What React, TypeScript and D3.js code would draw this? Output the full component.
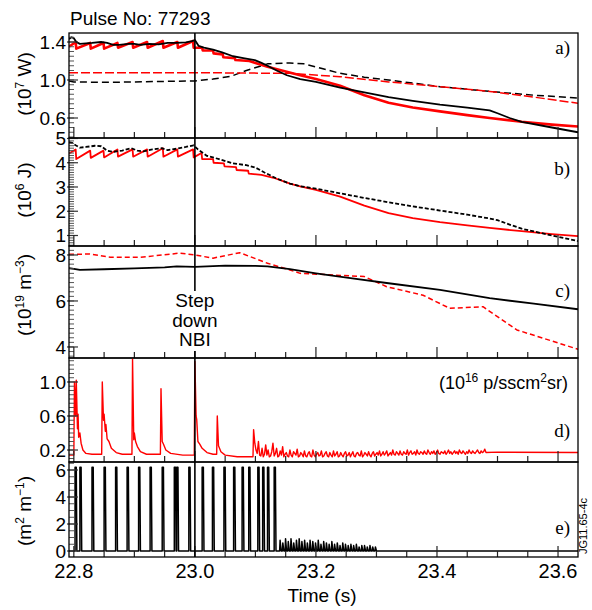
import React from 'react';
import * as d3 from 'd3';

// ---- data ----
const tStart = 22.792;
const tEnd = 23.633;
const stepDownTime = 23.0;
const pulseNo = '77293';
const xTickValues = [22.8, 23.0, 23.2, 23.4, 23.6];

// a) power, 1e7 W
const powABlack: [number, number][] = [
  [22.792, 1.43], [22.796, 1.45], [22.8, 1.44], [22.804, 1.40], [22.81, 1.38], [22.82, 1.385],
  [22.83, 1.39], [22.845, 1.40], [22.855, 1.39], [22.865, 1.37], [22.875, 1.37], [22.89, 1.38],
  [22.9, 1.38], [22.91, 1.37], [22.925, 1.38], [22.94, 1.375], [22.955, 1.39], [22.97, 1.39],
  [22.985, 1.395], [22.995, 1.41], [23.0, 1.42], [23.006, 1.36], [23.015, 1.34], [23.03, 1.32],
  [23.045, 1.29], [23.063, 1.25], [23.08, 1.23], [23.099, 1.21], [23.11, 1.18], [23.12, 1.15],
  [23.135, 1.10], [23.152, 1.05], [23.174, 1.01], [23.2, 0.98], [23.24, 0.92], [23.28, 0.87],
  [23.32, 0.82], [23.36, 0.78], [23.405, 0.74], [23.45, 0.71], [23.487, 0.68], [23.5, 0.65],
  [23.52, 0.60], [23.54, 0.56], [23.59, 0.50], [23.633, 0.45],
];
const powARed: [number, number][] = [
  [22.792, 1.35], [22.803, 1.40], [22.804, 1.33], [22.827, 1.39], [22.828, 1.33], [22.849, 1.39],
  [22.85, 1.33], [22.872, 1.39], [22.873, 1.34], [22.897, 1.40], [22.898, 1.34], [22.921, 1.40],
  [22.922, 1.34], [22.947, 1.41], [22.948, 1.34], [22.971, 1.40], [22.972, 1.34], [22.997, 1.41],
  [22.998, 1.34], [23.012, 1.34], [23.013, 1.31], [23.03, 1.31], [23.031, 1.28], [23.046, 1.27],
  [23.047, 1.24], [23.066, 1.23], [23.067, 1.21], [23.09, 1.20], [23.1, 1.18], [23.12, 1.14],
  [23.15, 1.09], [23.174, 1.05], [23.2, 1.01], [23.24, 0.94], [23.28, 0.84], [23.32, 0.76],
  [23.36, 0.71], [23.405, 0.67], [23.45, 0.63], [23.487, 0.60], [23.54, 0.56], [23.59, 0.53],
  [23.633, 0.51],
];
const powABlackDash: [number, number][] = [
  [22.792, 0.99], [22.8, 0.98], [22.85, 0.975], [22.9, 0.98], [22.95, 0.985], [23.0, 0.99],
  [23.03, 1.01], [23.06, 1.04], [23.085, 1.10], [23.12, 1.17], [23.157, 1.18], [23.18, 1.17],
  [23.21, 1.12], [23.24, 1.07], [23.28, 1.03], [23.32, 1.0], [23.405, 0.93], [23.487, 0.88],
  [23.56, 0.84], [23.633, 0.81],
];
const powARedDash: [number, number][] = [
  [22.792, 1.077], [23.0, 1.077], [23.157, 1.07], [23.24, 1.035], [23.32, 0.98], [23.405, 0.93],
  [23.487, 0.88], [23.56, 0.82], [23.633, 0.755],
];

// b) stored energy, 1e6 J
const enBBlackDash: [number, number][] = [
  [22.792, 4.85], [22.797, 4.82], [22.803, 4.72], [22.81, 4.62], [22.82, 4.65], [22.835, 4.7],
  [22.845, 4.68], [22.855, 4.5], [22.865, 4.45], [22.88, 4.5], [22.895, 4.6], [22.905, 4.5],
  [22.915, 4.47], [22.93, 4.55], [22.945, 4.6], [22.955, 4.52], [22.97, 4.58], [22.985, 4.65],
  [22.998, 4.72], [23.005, 4.55], [23.02, 4.28], [23.04, 4.15], [23.063, 3.97], [23.085, 3.9],
  [23.1, 3.8], [23.115, 3.6], [23.135, 3.35], [23.157, 3.14], [23.174, 3.03], [23.2, 2.93],
  [23.24, 2.74], [23.28, 2.55], [23.32, 2.37], [23.36, 2.2], [23.405, 2.03], [23.45, 1.86],
  [23.487, 1.7], [23.5, 1.63], [23.52, 1.45], [23.54, 1.28], [23.59, 1.0], [23.633, 0.77],
];
const enBRed: [number, number][] = [
  [22.792, 4.38], [22.803, 4.55], [22.804, 4.15], [22.827, 4.5], [22.828, 4.2], [22.849, 4.5],
  [22.85, 4.22], [22.872, 4.55], [22.873, 4.25], [22.897, 4.55], [22.898, 4.25], [22.921, 4.55],
  [22.922, 4.25], [22.947, 4.6], [22.948, 4.25], [22.971, 4.55], [22.972, 4.25], [22.997, 4.55],
  [22.998, 4.22], [23.011, 4.4], [23.012, 4.15], [23.03, 4.15], [23.031, 4.0], [23.048, 3.97],
  [23.049, 3.85], [23.068, 3.82], [23.069, 3.7], [23.088, 3.67], [23.089, 3.55], [23.11, 3.5],
  [23.13, 3.38], [23.157, 3.14], [23.174, 3.03], [23.2, 2.88], [23.24, 2.6], [23.28, 2.23],
  [23.32, 1.92], [23.36, 1.72], [23.405, 1.55], [23.45, 1.42], [23.487, 1.31], [23.54, 1.18],
  [23.59, 1.06], [23.633, 0.97],
];

// c) density, 1e19 m^-3
const denCBlack: [number, number][] = [
  [22.792, 7.43], [22.8, 7.4], [22.81, 7.35], [22.85, 7.38], [22.9, 7.42], [22.95, 7.46],
  [22.97, 7.5], [23.0, 7.48], [23.05, 7.54], [23.1, 7.53], [23.12, 7.5], [23.157, 7.38],
  [23.2, 7.2], [23.26, 6.98], [23.32, 6.77], [23.405, 6.48], [23.487, 6.12], [23.56, 5.88],
  [23.633, 5.64],
];
const denCRedDash: [number, number][] = [
  [22.792, 8.03], [22.826, 8.04], [22.86, 7.9], [22.91, 7.9], [22.975, 8.08], [23.0, 8.0],
  [23.03, 7.86], [23.074, 8.1], [23.12, 7.64], [23.157, 7.35], [23.174, 7.2], [23.28, 7.06],
  [23.317, 6.62], [23.377, 6.25], [23.421, 5.68], [23.476, 5.75], [23.487, 5.55], [23.532, 4.74],
  [23.633, 3.9],
];

// d) D-alpha, 1e16 p/s cm2 sr
const dAlphaSpikes: [number, number][] = [
  [22.792, 0.14], [22.8, 0.14], [22.801, 1.0], [22.803, 0.6], [22.804, 1.02], [22.806, 0.45],
  [22.807, 0.62], [22.808, 0.35], [22.81, 0.4], [22.812, 0.28], [22.815, 0.2], [22.82, 0.16],
  [22.83, 0.15], [22.846, 0.15], [22.847, 1.0], [22.849, 0.55], [22.85, 0.62], [22.852, 0.42],
  [22.853, 0.5], [22.855, 0.33], [22.858, 0.3], [22.862, 0.22], [22.87, 0.17], [22.88, 0.15],
  [22.896, 0.15], [22.897, 1.27], [22.899, 0.32], [22.9, 0.4], [22.902, 0.3], [22.905, 0.24],
  [22.91, 0.18], [22.92, 0.15], [22.943, 0.15], [22.944, 0.92], [22.946, 0.3], [22.948, 0.27],
  [22.952, 0.2], [22.96, 0.16], [22.98, 0.14], [22.999, 0.14], [23.0, 1.24], [23.002, 0.6],
  [23.003, 0.56], [23.005, 0.3], [23.008, 0.27], [23.012, 0.22], [23.02, 0.17], [23.03, 0.15],
  [23.036, 0.15], [23.037, 0.6], [23.039, 0.25], [23.043, 0.18], [23.05, 0.14], [23.07, 0.12],
  [23.096, 0.12], [23.097, 0.44], [23.099, 0.28],
];
const dAlphaNoiseStart = 23.101;
const dAlphaNoiseStep = 0.002;
const dAlphaNoise = [
  0.2, 0.16, 0.3, 0.14, 0.13, 0.22, 0.12, 0.15, 0.26, 0.14, 0.2, 0.12, 0.13, 0.18, 0.28, 0.13, 0.16, 0.22, 0.12, 0.13,
  0.19, 0.14, 0.24, 0.12, 0.15, 0.17, 0.13, 0.12, 0.2, 0.14, 0.12, 0.18, 0.16, 0.14, 0.21, 0.12, 0.13, 0.17, 0.15, 0.12,
  0.19, 0.13, 0.12, 0.16, 0.18, 0.13, 0.12, 0.2, 0.14, 0.12, 0.15, 0.17, 0.13, 0.14, 0.19, 0.12, 0.13, 0.16, 0.18, 0.13,
  0.12, 0.17, 0.14, 0.12, 0.19, 0.13, 0.15, 0.18, 0.12, 0.13, 0.17, 0.14, 0.12, 0.16, 0.18, 0.13, 0.14, 0.17, 0.12, 0.15,
  0.18, 0.13, 0.12, 0.16, 0.17, 0.14, 0.13, 0.19, 0.12, 0.14, 0.17, 0.15, 0.13, 0.18, 0.14, 0.12, 0.16, 0.18, 0.13, 0.15,
  0.17, 0.14, 0.19, 0.13, 0.15, 0.18, 0.14, 0.16, 0.19, 0.13, 0.15, 0.17, 0.14, 0.2, 0.15, 0.14, 0.18, 0.16, 0.14, 0.19,
  0.15, 0.14, 0.18, 0.16, 0.15, 0.2, 0.14, 0.17, 0.19, 0.15, 0.16, 0.18, 0.14, 0.2, 0.16, 0.15, 0.18, 0.17, 0.15, 0.19,
  0.16, 0.15, 0.2, 0.17, 0.15, 0.18, 0.16, 0.19, 0.15, 0.17, 0.2, 0.16, 0.15, 0.18, 0.17, 0.16, 0.19, 0.15, 0.17, 0.2,
  0.16, 0.18, 0.15, 0.17, 0.19, 0.16, 0.18, 0.15, 0.2, 0.17, 0.16, 0.19, 0.17, 0.15, 0.18, 0.16, 0.2, 0.17, 0.16, 0.19,
  0.17, 0.16, 0.18, 0.2, 0.17, 0.16, 0.19, 0.17, 0.18, 0.21, 0.17,
];
const dAlphaTail: [number, number][] = [[23.5, 0.175], [23.633, 0.17]];

// e) magnetic signal, m2 m^-1
const eSpikeTimes = [
  22.802, 22.810, 22.830, 22.850, 22.869, 22.888, 22.907, 22.926, 22.946, 22.966, 22.970,
  22.990, 23.012, 23.029, 23.048, 23.064, 23.078, 23.089, 23.104, 23.112, 23.120, 23.131,
];
const eSpikeTop = 6.2;
const eTeethStart = 23.14;
const eTeethStep = 0.0045;
const eTeethPeaks = [
  0.8, 0.6, 0.9, 0.7, 0.9, 0.6, 0.8, 0.9, 0.7, 0.8, 0.6, 0.8, 0.7, 0.6, 0.8, 0.5, 0.7, 0.6,
  0.5, 0.7, 0.5, 0.6, 0.4, 0.6, 0.5, 0.4, 0.5, 0.4, 0.5, 0.3, 0.4, 0.4, 0.3, 0.4, 0.3, 0.3,
];

// ---- layout ----
const plotL = 69;
const plotR = 578;
const sans = 'Liberation Sans, Arial, sans-serif';
const serif = 'Liberation Serif, Times New Roman, serif';

const xScale = d3.scaleLinear().domain([tStart, tEnd]).range([plotL, plotR]);

const dAlpha: [number, number][] = [
  ...dAlphaSpikes,
  ...dAlphaNoise.map((v, i) => [dAlphaNoiseStart + i * dAlphaNoiseStep, v] as [number, number]),
  ...dAlphaTail,
];

const eSignal: [number, number][] = [[tStart, 0]];
eSpikeTimes.forEach(t => {
  eSignal.push([t, 0], [t, eSpikeTop], [t + 0.002, eSpikeTop], [t + 0.003, 0]);
});
eTeethPeaks.forEach((p, i) => {
  const t = eTeethStart + i * eTeethStep;
  eSignal.push([t, 0], [t + 0.0008, p], [t + 0.0025, 0]);
});
eSignal.push([tEnd, 0]);

type Series = { data: [number, number][]; color: string; width: number; dash?: string };
type Panel = {
  key: string; top: number; bottom: number; domain: [number, number];
  majors: number[]; fmt: (v: number) => string; minorStep: number;
  series: Series[]; letterY: number;
};

const panels: Panel[] = [
  {
    key: 'a', top: 33, bottom: 138, domain: [0.3895, 1.4947], majors: [0.6, 1.0, 1.4],
    fmt: v => v.toFixed(1), minorStep: 0.05, letterY: 54,
    series: [
      { data: powABlackDash, color: '#000', width: 1.5, dash: '7,4' },
      { data: powARedDash, color: '#ff0000', width: 1.5, dash: '9,3' },
      { data: powARed, color: '#ff0000', width: 2.6 },
      { data: powABlack, color: '#000', width: 1.8 },
    ],
  },
  {
    key: 'b', top: 138, bottom: 246, domain: [0.567, 5.02], majors: [1, 2, 3, 4, 5],
    fmt: v => String(v), minorStep: 0.1, letterY: 175,
    series: [
      { data: enBRed, color: '#ff0000', width: 1.8 },
      { data: enBBlackDash, color: '#000', width: 1.8, dash: '4,2' },
    ],
  },
  {
    key: 'c', top: 246, bottom: 358, domain: [3.52, 8.39], majors: [4, 6, 8],
    fmt: v => String(v), minorStep: 0.2, letterY: 297,
    series: [
      { data: denCRedDash, color: '#ff0000', width: 1.5, dash: '5,3' },
      { data: denCBlack, color: '#000', width: 1.8 },
    ],
  },
  {
    key: 'd', top: 358, bottom: 462, domain: [0.059, 1.282], majors: [0.2, 0.6, 1.0],
    fmt: v => v.toFixed(1), minorStep: 0.05, letterY: 437,
    series: [{ data: dAlpha, color: '#ff0000', width: 1.4 }],
  },
  {
    key: 'e', top: 462, bottom: 557, domain: [-0.444, 6.593], majors: [0, 2, 4, 6],
    fmt: v => String(v), minorStep: 0.5, letterY: 534,
    series: [{ data: eSignal, color: '#000', width: 1.5 }],
  },
];

const xMinor = d3.range(0, 17).map(i => ({ t: 22.8 + i * 0.05, major: i % 4 === 0 }));

function PanelView({ p }: { p: Panel }) {
  const y = d3.scaleLinear().domain(p.domain).range([p.bottom, p.top]);
  const line = d3.line<[number, number]>().x(d => xScale(d[0])).y(d => y(d[1]));
  const lo = Math.ceil(p.domain[0] / p.minorStep);
  const hi = Math.floor(p.domain[1] / p.minorStep);
  const minors = d3.range(lo, hi + 1).map(i => i * p.minorStep);
  const clipId = `clip-${p.key}`;
  return (
    <g>
      <clipPath id={clipId}>
        <rect x={plotL} y={p.top} width={plotR - plotL} height={p.bottom - p.top} />
      </clipPath>
      <g clipPath={`url(#${clipId})`}>
        {p.series.map((s, i) => (
          <path key={i} d={line(s.data) || ''} fill="none" stroke={s.color} strokeWidth={s.width}
            strokeDasharray={s.dash} strokeLinejoin="round" />
        ))}
      </g>
      {minors.map((v, i) => (
        <line key={'ym' + i} x1={plotL} x2={plotL + 5} y1={y(v)} y2={y(v)} stroke="#555" strokeWidth={1} />
      ))}
      {p.majors.map(v => (
        <g key={'yM' + v}>
          <line x1={plotL - 2} x2={plotL + 9} y1={y(v)} y2={y(v)} stroke="#333" strokeWidth={1.2} />
          <text x={plotL - 3} y={y(v) + 7} textAnchor="end" fontSize={19} fontFamily={sans}>{p.fmt(v)}</text>
        </g>
      ))}
      {xMinor.map((m, i) => (
        <line key={'xt' + i} x1={xScale(m.t)} x2={xScale(m.t)} y1={p.bottom} y2={p.bottom - (m.major ? 11 : 6)}
          stroke="#222" strokeWidth={1.2} />
      ))}
      <rect x={plotL} y={p.top} width={plotR - plotL} height={p.bottom - p.top} fill="none" stroke="#000" strokeWidth={1.3} />
      <text x={570} y={p.letterY} textAnchor="end" fontSize={19} fontFamily={serif}>{p.key})</text>
    </g>
  );
}

function YTitle({ cy, children }: { cy: number; children: React.ReactNode }) {
  return (
    <text transform={`translate(31,${cy}) rotate(-90)`} textAnchor="middle" fontSize={19} fontFamily={sans}>
      {children}
    </text>
  );
}

export default function App() {
  const xStep = xScale(stepDownTime);
  return (
    <svg width={592} height={610} style={{ position: 'absolute', left: 0, top: 0, background: '#fff' }}>
      <text x={70} y={25} fontSize={19} fontFamily={sans}>Pulse No: {pulseNo}</text>
      {panels.map(p => <PanelView key={p.key} p={p} />)}
      <line x1={xStep} x2={xStep} y1={33} y2={557} stroke="#000" strokeWidth={1.6} />
      <rect x={xStep - 22} y={291} width={44} height={60} fill="#fff" />
      <text x={xStep} textAnchor="middle" fontSize={19} fontFamily={sans}>
        <tspan x={xStep} y={307}>Step</tspan>
        <tspan x={xStep} y={327}>down</tspan>
        <tspan x={xStep} y={346}>NBI</tspan>
      </text>
      <YTitle cy={84}>(10<tspan dy={-7} fontSize={12}>7</tspan><tspan dy={7}> W)</tspan></YTitle>
      <YTitle cy={190}>(10<tspan dy={-7} fontSize={12}>6</tspan><tspan dy={7}> J)</tspan></YTitle>
      <YTitle cy={295}>(10<tspan dy={-7} fontSize={12}>19</tspan><tspan dy={7}> m</tspan><tspan dy={-7} fontSize={12}>−3</tspan><tspan dy={7}>)</tspan></YTitle>
      <YTitle cy={511}>(m<tspan dy={-7} fontSize={12}>2</tspan><tspan dy={7}> m</tspan><tspan dy={-7} fontSize={12}>−1</tspan><tspan dy={7}>)</tspan></YTitle>
      <text x={568} y={389} textAnchor="end" fontSize={18} fontFamily={sans}>
        (10<tspan dy={-7} fontSize={12}>16</tspan><tspan dy={7}> p/sscm</tspan><tspan dy={-7} fontSize={12}>2</tspan><tspan dy={7}>sr)</tspan>
      </text>
      {xTickValues.map(v => (
        <text key={v} x={xScale(v)} y={578} textAnchor="middle" fontSize={20} fontFamily={sans}>{v.toFixed(1)}</text>
      ))}
      <text x={322} y={602} textAnchor="middle" fontSize={19} fontFamily={sans}>Time (s)</text>
      <text transform="translate(587,526) rotate(-90)" textAnchor="middle" fontSize={11} fontFamily={sans}>JG11.65-4c</text>
    </svg>
  );
}
